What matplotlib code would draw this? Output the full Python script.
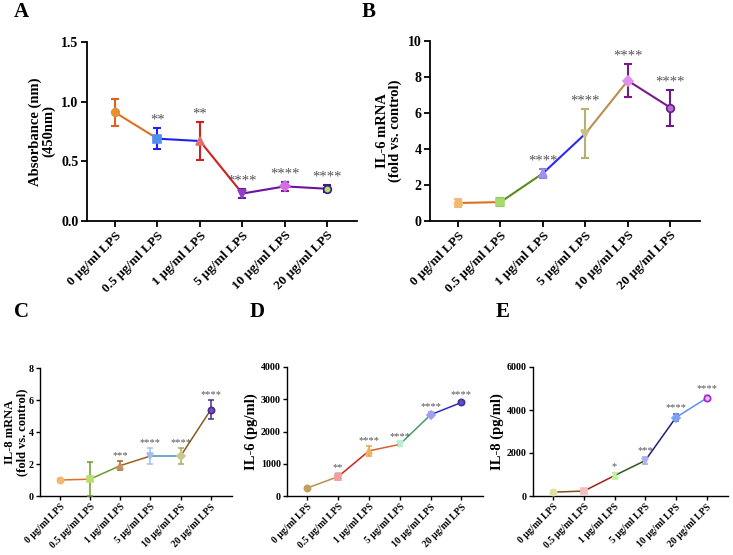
import matplotlib.pyplot as plt

plt.rcParams['font.family'] = ['Liberation Serif', 'DejaVu Serif']
plt.rcParams['font.weight'] = 'bold'

groups = ["0 μg/ml LPS", "0.5 μg/ml LPS", "1 μg/ml LPS",
          "5 μg/ml LPS", "10 μg/ml LPS", "20 μg/ml LPS"]

# A: absorbance
a_mean = [0.91, 0.69, 0.67, 0.23, 0.29, 0.27]
a_err = [0.115, 0.09, 0.16, 0.04, 0.04, 0.03]
a_stars = ["", "**", "**", "****", "****", "****"]

# B: IL-6 mRNA
b_mean = [1.0, 1.05, 2.65, 4.85, 7.8, 6.3]
b_err = [0.22, 0.22, 0.25, 1.35, 0.9, 1.0]
b_stars = ["", "", "****", "****", "****", "****"]

# C: IL-8 mRNA
c_mean = [1.0, 1.05, 1.9, 2.5, 2.5, 5.4]
c_err = [0.05, 1.05, 0.28, 0.5, 0.5, 0.58]
c_stars = ["", "", "***", "****", "****", "****"]

# D: IL-6 protein
d_mean = [250, 600, 1400, 1600, 2520, 2900]
d_err = [30, 110, 150, 50, 70, 50]
d_stars = ["", "**", "****", "****", "****", "****"]

# E: IL-8 protein
e_mean = [180, 230, 950, 1650, 3650, 4550]
e_err = [20, 30, 120, 170, 180, 150]
e_stars = ["", "", "*", "***", "****", "****"]

markers = ['o', 's', '^', 'v', 'D', 'o']


def panel(ax, mean, err, stars, seg_c, err_c, face_c, edge_c, ylim, yticks,
          ylabel, big, lab_fs, lab_pad):
    x = list(range(len(mean)))
    lw = 1.5 if big else 1.1
    for i in range(len(mean) - 1):
        ax.plot([x[i], x[i + 1]], [mean[i], mean[i + 1]], color=seg_c[i],
                lw=lw, zorder=2)
    for i in x:
        ax.errorbar(x[i], mean[i], yerr=err[i], fmt='none', ecolor=err_c[i],
                    elinewidth=lw, capsize=3 if big else 2.2,
                    capthick=lw, zorder=3)
        ax.plot(x[i], mean[i], marker=markers[i], ms=5.5 if big else 4.5,
                mfc=face_c[i], mec=edge_c[i], mew=1.2, zorder=4)
        if stars[i]:
            ax.annotate(stars[i], (x[i], mean[i] + err[i]),
                        xytext=(0, 1), textcoords='offset points',
                        ha='center', va='bottom', color='#555555',
                        fontsize=10.5 if big else 7.5, fontweight='normal')
    ax.set_xlim(-0.66, 5.7)
    ax.set_ylim(*ylim)
    ax.set_yticks(yticks)
    ax.set_xticks(x)
    ax.set_xticklabels(groups, rotation=45, ha='right',
                       rotation_mode='anchor', fontsize=9.5 if big else 7)
    ax.tick_params(axis='y', labelsize=10 if big else 7.2)
    ax.set_ylabel(ylabel, fontsize=lab_fs, fontweight='bold',
                  linespacing=1.0, labelpad=lab_pad)
    for s in ['top', 'right']:
        ax.spines[s].set_visible(False)
    for s in ['left', 'bottom']:
        ax.spines[s].set_linewidth(1.3 if big else 1.0)
    ax.tick_params(width=1.3 if big else 1.0, length=4 if big else 3,
                   direction='out', pad=2 if big else 1.5)


W, H = 733, 555
fig = plt.figure(figsize=(W / 100, H / 100), dpi=100)


def box(l, r, t, b):
    return [l / W, 1 - b / H, (r - l) / W, (b - t) / H]


axA = fig.add_axes(box(87, 357, 42, 221))
panel(axA, a_mean, a_err, a_stars,
      ['#E07020', '#2020F0', '#D02020', '#7010A0', '#7010A0'],
      ['#E06020', '#2020F0', '#D02020', '#6A1A9A', '#8A1A9A', '#3A1A8A'],
      ['#E89030', '#5090F0', '#E07070', '#9040C0', '#D070E0', '#B0E060'],
      ['#E89030', '#5090F0', '#E07070', '#9040C0', '#D070E0', '#3A1A8A'],
      (0, 1.5), [0.0, 0.5, 1.0, 1.5], "Absorbance (nm)\n(450nm)", True,
      10.5, 4)
axA.set_yticklabels(["0.0", "0.5", "1.0", "1.5"])

axB = fig.add_axes(box(430, 700, 41, 221))
panel(axB, b_mean, b_err, b_stars,
      ['#E07020', '#5A8A20', '#2A2AF0', '#B8904A', '#7A1A8A'],
      ['#F0C080', '#3A6A1A', '#8A80E8', '#B8B070', '#7A1A8A', '#6A1A8A'],
      ['#F0B870', '#A8D870', '#A090F0', '#C8C088', '#E090F0', '#B070D0'],
      ['#F0B870', '#A8D870', '#A090F0', '#C8C088', '#E090F0', '#6A1A8A'],
      (0, 10), [0, 2, 4, 6, 8, 10], "IL-6 mRNA\n(fold vs. control)", True,
      10.5, 4)

axC = fig.add_axes(box(40, 232, 368, 496))
panel(axC, c_mean, c_err, c_stars,
      ['#E07020', '#6A9A2A', '#9A6020', '#4A90B8', '#8A5A1E'],
      ['#F0C080', '#6A9A2A', '#9A6020', '#A0C0F0', '#A8A860', '#4A2A8A'],
      ['#F0B870', '#B8E070', '#C89060', '#A0C0F0', '#C8C890', '#7050C0'],
      ['#F0B870', '#B8E070', '#C89060', '#A0C0F0', '#C8C890', '#4A2A8A'],
      (0, 8), [0, 2, 4, 6, 8], "IL-8 mRNA\n(fold vs. control)", False,
      9, 0.5)

axD = fig.add_axes(box(287, 483, 367, 496))
panel(axD, d_mean, d_err, d_stars,
      ['#B89050', '#D02020', '#D8602A', '#4A9A6A', '#2A2AC8'],
      ['#B8A060', '#E8A0A0', '#E8A040', '#A0E8C0', '#9090E0', '#4030A0'],
      ['#C0A060', '#F0A0A0', '#F0B060', '#B0F0D0', '#A0A0F0', '#6050C0'],
      ['#C0A060', '#F0A0A0', '#F0B060', '#B0F0D0', '#A0A0F0', '#4030A0'],
      (0, 4000), [0, 1000, 2000, 3000, 4000], "IL-6 (pg/ml)", False,
      10.5, 2)

axE = fig.add_axes(box(533, 728, 367, 496))
panel(axE, e_mean, e_err, e_stars,
      ['#7A5020', '#A02020', '#2E5A1E', '#1E1E80', '#6090F0'],
      ['#E0E0A0', '#F0B0B0', '#B0E890', '#A0A0E8', '#3060C8', '#F0B0E0'],
      ['#E0E0A0', '#F0C0C0', '#C0F0A0', '#B0B0F0', '#80A0F0', '#F0C0F0'],
      ['#E0E0A0', '#F0C0C0', '#C0F0A0', '#B0B0F0', '#80A0F0', '#A020E0'],
      (0, 6000), [0, 2000, 4000, 6000], "IL-8 (pg/ml)", False,
      10.5, 2)

for letter, (px, py) in zip("ABCDE", [(14, 12), (362, 12), (14, 312),
                                      (250, 312), (496, 312)]):
    fig.text(px / W, 1 - py / H, letter, fontsize=15, fontweight='bold',
             ha='left', va='center')

fig.savefig("out.png", dpi=100)
